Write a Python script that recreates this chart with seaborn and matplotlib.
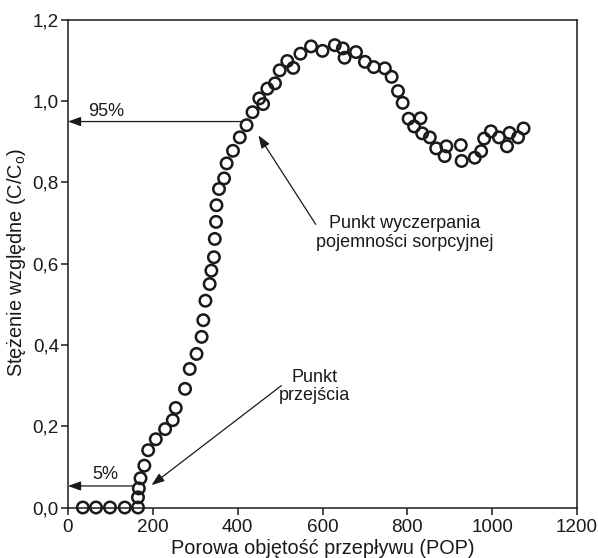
import matplotlib
matplotlib.use("Agg")
import matplotlib.pyplot as plt
import numpy as np
import pandas as pd
import seaborn as sns

# ---- data ----
pop = [35, 66, 99, 134, 165, 165, 167, 171, 180, 189, 207, 229, 247, 254,
       276, 287, 303, 315, 319, 324, 334, 338, 344, 346, 349, 350, 356, 368,
       374, 389, 405, 421, 435, 451, 460, 470, 488, 499, 517, 531, 548, 573,
       600, 629, 648, 652, 679, 700, 721, 747, 763, 778, 789, 803, 816, 831,
       835, 853, 868, 888, 892, 926, 928, 959, 974, 981, 997, 1016, 1035,
       1041, 1061, 1074]
conc = [0.0, 0.0, 0.0, 0.0, 0.0, 0.025, 0.047, 0.072, 0.103, 0.141, 0.168,
        0.193, 0.215, 0.245, 0.292, 0.341, 0.378, 0.420, 0.461, 0.509, 0.550,
        0.583, 0.616, 0.661, 0.703, 0.744, 0.784, 0.810, 0.847, 0.878, 0.911,
        0.941, 0.973, 1.007, 0.993, 1.031, 1.044, 1.076, 1.099, 1.082, 1.117,
        1.135, 1.124, 1.138, 1.130, 1.107, 1.121, 1.097, 1.084, 1.081, 1.060,
        1.025, 0.996, 0.957, 0.938, 0.958, 0.921, 0.911, 0.884, 0.865, 0.889,
        0.892, 0.853, 0.861, 0.877, 0.908, 0.926, 0.911, 0.889, 0.922, 0.911,
        0.933]

x_ticks = [0, 200, 400, 600, 800, 1000, 1200]
y_ticks = [0.0, 0.2, 0.4, 0.6, 0.8, 1.0, 1.2]
y_tick_labels = ["0,0", "0,2", "0,4", "0,6", "0,8", "1,0", "1,2"]

x_label = "Porowa objętość przepływu (POP)"
y_label = "Stężenie względne (C/C$_\\mathregular{o}$)"
label_95 = "95%"
label_5 = "5%"
label_breakthrough = "Punkt\nprzejścia"
label_exhaustion = "Punkt wyczerpania\npojemności sorpcyjnej"

# ---- style ----
sns.set_style("ticks")
plt.rcParams["font.family"] = ["Liberation Sans", "DejaVu Sans"]
plt.rcParams["mathtext.fontset"] = "custom"
plt.rcParams["mathtext.rm"] = "Liberation Sans"
plt.rcParams["mathtext.it"] = "Liberation Sans:italic"

ink = "#1a1a1a"
fs = 13
fs_tick = 13.6
fs_label = 14.3

fig = plt.figure(figsize=(5.98, 5.58), dpi=100)
ax = fig.add_axes([0.1137, 0.0905, 0.8512, 0.8737])

df = pd.DataFrame({"POP": pop, "C": conc})
sns.scatterplot(data=df, x="POP", y="C", ax=ax, marker="o", s=68,
                facecolor="none", edgecolor=ink, linewidth=1.8,
                clip_on=False, zorder=3, legend=False)

ax.set_xlim(0, 1200)
ax.set_ylim(0, 1.2)
ax.set_xticks(x_ticks)
ax.set_xticklabels([str(t) for t in x_ticks])
ax.set_yticks(y_ticks)
ax.set_yticklabels(y_tick_labels)
ax.set_xlabel("")
ax.set_ylabel("")

for sp in ax.spines.values():
    sp.set_visible(True)
    sp.set_linewidth(1.1)
    sp.set_color(ink)
ax.tick_params(axis="both", direction="out", length=5, width=1.1,
               colors=ink, labelsize=fs_tick, top=False, right=False)
ax.tick_params(axis="x", pad=3.5)
ax.tick_params(axis="y", pad=1.5)

fig.text(323 / 598, 1 - 549 / 558, x_label, ha="center", va="center",
         fontsize=fs_label, color=ink)
fig.text(17 / 598, 1 - 262 / 558, y_label, ha="center", va="center",
         rotation=90, fontsize=fs_label, color=ink)

arrow_kw = dict(arrowstyle="-|>,head_length=0.55,head_width=0.2",
                color=ink, lw=0.9, shrinkA=0, shrinkB=0,
                mutation_scale=14)

# 95 % line
ax.annotate("", xy=(0, 0.95), xytext=(409, 0.95), arrowprops=arrow_kw,
            annotation_clip=False)
ax.text(91, 0.975, label_95, ha="center", va="center", fontsize=fs,
        color=ink)
# 5 % line
ax.annotate("", xy=(0, 0.053), xytext=(155, 0.053), arrowprops=arrow_kw,
            annotation_clip=False)
ax.text(87, 0.082, label_5, ha="center", va="center", fontsize=fs,
        color=ink)

# breakthrough point
ax.annotate("", xy=(197, 0.055), xytext=(503, 0.30), arrowprops=arrow_kw)
ax.text(582, 0.297, label_breakthrough, ha="center", va="center",
        fontsize=fs, color=ink, linespacing=1.1, multialignment="center")

# exhaustion point
ax.annotate("", xy=(449, 0.916), xytext=(584, 0.697), arrowprops=arrow_kw)
ax.text(794, 0.676, label_exhaustion, ha="center", va="center",
        fontsize=fs, color=ink, linespacing=1.1, multialignment="center")

fig.savefig("out.png", dpi=100)
